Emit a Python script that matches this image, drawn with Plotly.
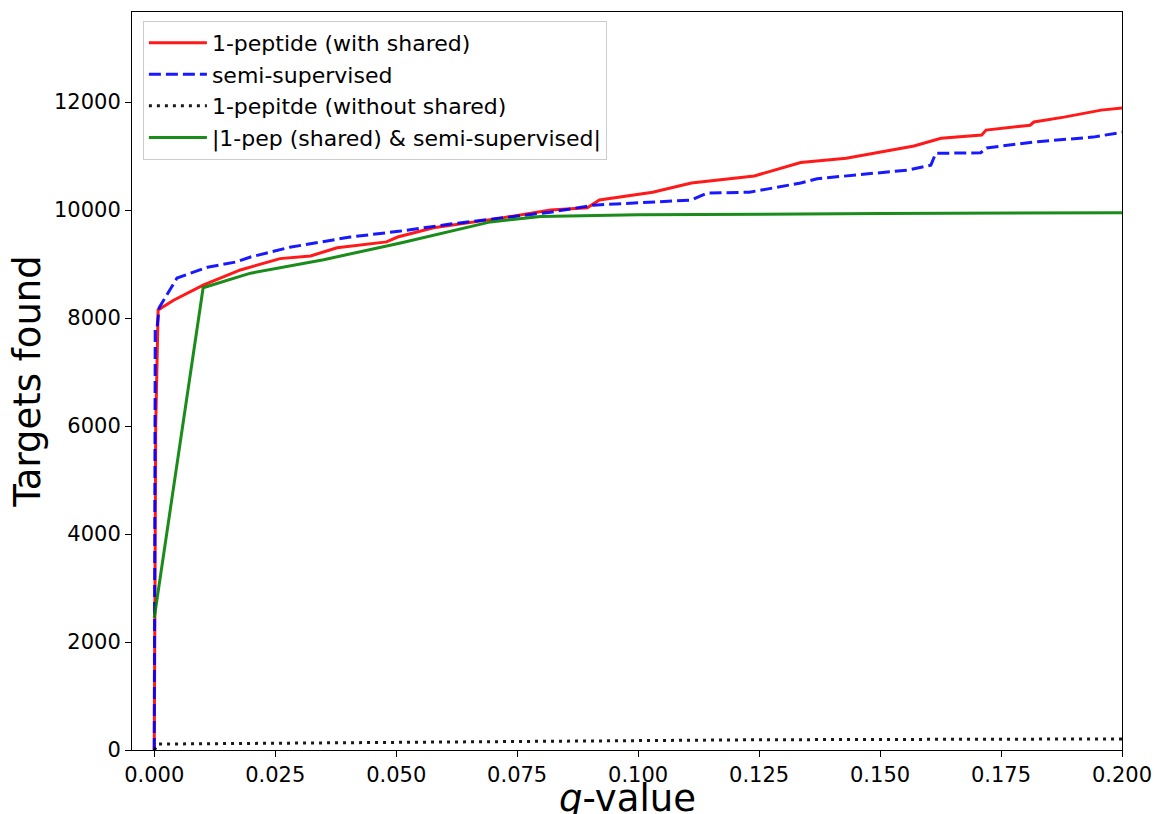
import plotly.graph_objects as go

# 1-peptide (with shared)
red_q = [0.0, 0.0003, 0.0008, 0.004, 0.0101, 0.0178, 0.026, 0.0323, 0.0378, 0.048, 0.0503,
         0.0577, 0.0716, 0.0819, 0.0895, 0.092, 0.103, 0.111, 0.124, 0.1336, 0.143, 0.153,
         0.157, 0.1626, 0.171, 0.1719, 0.181, 0.1818, 0.188, 0.1957, 0.2]
red_v = [0, 6000, 8150, 8330, 8610, 8890, 9100, 9150, 9300, 9410, 9500,
         9670, 9850, 10000, 10040, 10185, 10330, 10500, 10630, 10880, 10960, 11130,
         11185, 11330, 11390, 11480, 11570, 11630, 11720, 11850, 11890]

# semi-supervised
blue_q = [0.0, 0.0002, 0.0006, 0.001, 0.0047, 0.011, 0.017, 0.0199, 0.028, 0.0405, 0.0509,
          0.0612, 0.0716, 0.0819, 0.0908, 0.111, 0.1143, 0.123, 0.1336, 0.137, 0.1557,
          0.1605, 0.1615, 0.1708, 0.172, 0.1818, 0.194, 0.2]
blue_v = [0, 7830, 7840, 8190, 8740, 8940, 9040, 9130, 9310, 9500, 9610,
          9740, 9850, 9960, 10090, 10185, 10315, 10330, 10500, 10580, 10740,
          10830, 11050, 11060, 11150, 11260, 11350, 11440]

# 1-pepitde (without shared)
black_q = [0.0, 0.0008, 0.025, 0.05, 0.075, 0.1, 0.125, 0.15, 0.175, 0.2]
black_v = [0, 110, 125, 140, 155, 180, 190, 195, 200, 205]

# |1-pep (shared) & semi-supervised|
green_q = [0.0, 0.0101, 0.0199, 0.035, 0.0509, 0.0695, 0.0798, 0.1, 0.15, 0.2]
green_v = [2450, 8560, 8830, 9080, 9390, 9780, 9880, 9910, 9935, 9950]

x_ticks = [0.0, 0.025, 0.05, 0.075, 0.1, 0.125, 0.15, 0.175, 0.2]
x_tick_labels = ["0.000", "0.025", "0.050", "0.075", "0.100", "0.125", "0.150", "0.175", "0.200"]
y_ticks = [0, 2000, 4000, 6000, 8000, 10000, 12000]
y_tick_labels = ["0", "2000", "4000", "6000", "8000", "10000", "12000"]

fig = go.Figure()
fig.add_trace(go.Scatter(x=red_q, y=red_v, mode="lines", name="1-peptide (with shared)",
                         line=dict(color="rgba(255,0,0,0.9)", width=3)))
fig.add_trace(go.Scatter(x=blue_q, y=blue_v, mode="lines", name="semi-supervised",
                         line=dict(color="rgba(0,0,255,0.9)", width=3, dash="12px,5px")))
fig.add_trace(go.Scatter(x=black_q, y=black_v, mode="lines", name="1-pepitde (without shared)",
                         line=dict(color="rgba(0,0,0,0.9)", width=3, dash="3px,5px")))
fig.add_trace(go.Scatter(x=green_q, y=green_v, mode="lines", name="|1-pep (shared) & semi-supervised|",
                         line=dict(color="rgba(0,128,0,0.9)", width=3)))

font_family = "DejaVu Sans"
fig.update_layout(
    width=1157, height=814,
    margin=dict(l=132, r=35, t=12, b=64, autoexpand=False),
    paper_bgcolor="white", plot_bgcolor="white",
    font=dict(family=font_family, color="black", size=21),
    showlegend=True,
    legend=dict(x=0.011, y=0.988, xanchor="left", yanchor="top",
                bgcolor="rgba(255,255,255,0.8)", bordercolor="#cccccc", borderwidth=1,
                font=dict(size=22, family=font_family), tracegroupgap=0, itemwidth=58),
    xaxis=dict(range=[-0.0046, 0.2], tickvals=x_ticks, ticktext=x_tick_labels,
               showgrid=False, zeroline=False, showline=True, linecolor="black", linewidth=1,
               mirror=True, ticks="outside", ticklen=6, tickcolor="black",
               tickfont=dict(size=21), automargin=False),
    yaxis=dict(range=[0, 13667], tickvals=y_ticks, ticktext=y_tick_labels,
               showgrid=False, zeroline=False, showline=True, linecolor="black", linewidth=1,
               mirror=True, ticks="outside", ticklen=6, tickcolor="black",
               tickfont=dict(size=21), automargin=False,
               title=dict(text="Targets found", font=dict(size=37), standoff=2)),
    annotations=[dict(text="<i>q</i>-value", xref="paper", yref="paper", x=0.5, y=-0.066,
                      xanchor="center", yanchor="middle", showarrow=False,
                      font=dict(size=37, family=font_family, color="black"))],
)

fig.write_html("out.html")
